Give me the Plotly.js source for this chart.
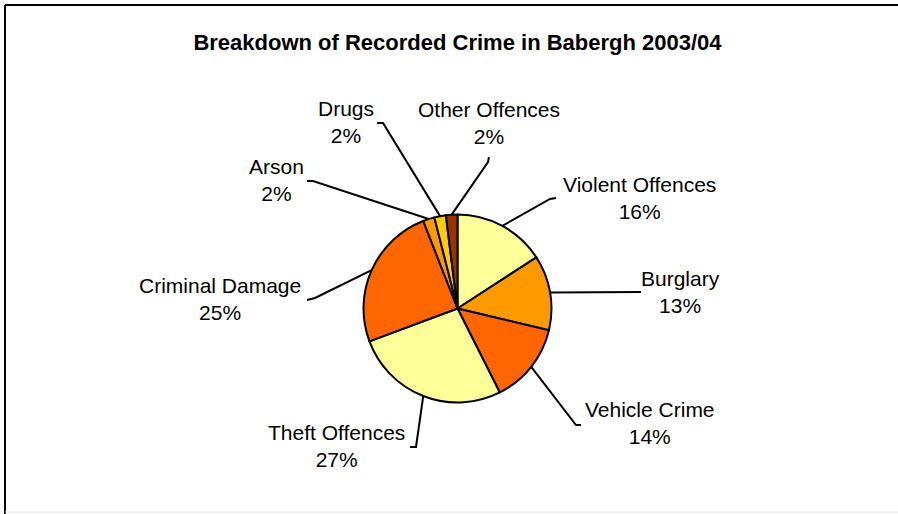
<!DOCTYPE html>
<html>
<head>
<meta charset="utf-8">
<script src="https://cdn.plot.ly/plotly-3.0.1.min.js"></script>
<style>html,body{margin:0;padding:0;background:#fff;}#chart{width:898px;height:514px;}</style>
</head>
<body>
<div id="chart"></div>
<script>
// ---- data ----
var categories = ["Violent Offences", "Burglary", "Vehicle Crime", "Theft Offences", "Criminal Damage", "Arson", "Drugs", "Other Offences"];
var values = [16, 13, 14, 27, 25, 2, 2, 2];
var colors = ["#FFFF99", "#FF9900", "#FF6600", "#FFFF99", "#FF6600", "#FF9900", "#FFCC00", "#993300"];
var chartTitle = "Breakdown of Recorded Crime in Babergh 2003/04";

// ---- layout constants (pixels) ----
var W = 898, H = 514;
var cx = 457.5, cy = 308.5, R = 94;
// label block centres (pixels)
var labelPos = [[639, 198], [680, 292], [650, 423], [336, 446], [220, 299], [276, 180], [346, 122], [489, 123]];
// leader line end (near label) and short hook end (pixels)
var leaderEnd = [[550, 199], [641, 292], [576, 425], [416, 447], [315, 298], [313, 181], [383, 123], [488, 162]];
var hookEnd = [[556, 198], [641, 292], [581, 425], [410, 447], [307, 300], [307, 181], [377, 123], [489, 157]];

function X(p) { return p / W; }
function Y(p) { return 1 - p / H; }

var total = values.reduce(function (a, b) { return a + b; }, 0);
var annotations = [];
var shapes = [
  {type: "line", xref: "paper", yref: "paper", x0: X(5), x1: 1, y0: Y(5), y1: Y(5), line: {color: "#000", width: 2}},
  {type: "line", xref: "paper", yref: "paper", x0: X(5), x1: X(5), y0: 0, y1: Y(5), line: {color: "#000", width: 2}},
  {type: "line", xref: "paper", yref: "paper", x0: X(5), x1: 1, y0: Y(512), y1: Y(512), line: {color: "#e6e6e6", width: 1}}
];
var cum = 0;
for (var i = 0; i < values.length; i++) {
  var mid = (cum + values[i] / 2) / total;
  cum += values[i];
  var ang = Math.PI / 2 - 2 * Math.PI * mid;
  var px = cx + R * Math.cos(ang);
  var py = cy - R * Math.sin(ang);
  var pct = Math.round(values[i] / total * 100);
  shapes.push({
    type: "path", xref: "paper", yref: "paper",
    path: "M" + X(px) + "," + Y(py) + " L" + X(leaderEnd[i][0]) + "," + Y(leaderEnd[i][1]) + " L" + X(hookEnd[i][0]) + "," + Y(hookEnd[i][1]),
    line: {color: "#000", width: 2}
  });
  annotations.push({
    xref: "paper", yref: "paper",
    x: X(labelPos[i][0]), y: Y(labelPos[i][1]),
    xanchor: "center", yanchor: "middle",
    text: categories[i] + "<br>" + pct + "%",
    showarrow: false,
    font: {family: "Liberation Sans, Arial, sans-serif", size: 21, color: "#000"},
    align: "center"
  });
}

var trace = {
  type: "pie",
  labels: categories,
  values: values,
  sort: false,
  direction: "clockwise",
  rotation: 0,
  textinfo: "none",
  hoverinfo: "label+percent",
  marker: {colors: colors, line: {color: "#000", width: 2}},
  domain: {x: [(cx - R) / W, (cx + R) / W], y: [(H - cy - R) / H, (H - cy + R) / H]},
  showlegend: false
};

var layout = {
  width: W, height: H,
  margin: {l: 0, r: 0, t: 0, b: 0},
  paper_bgcolor: "#fff",
  title: {
    text: "<b>" + chartTitle + "</b>",
    font: {family: "Liberation Sans, Arial, sans-serif", size: 22, color: "#000"},
    x: 457.5 / W, xanchor: "center", y: Y(42), yanchor: "middle"
  },
  annotations: annotations,
  shapes: shapes
};

Plotly.newPlot("chart", [trace], layout, {displayModeBar: false, staticPlot: true});
</script>
</body>
</html>
